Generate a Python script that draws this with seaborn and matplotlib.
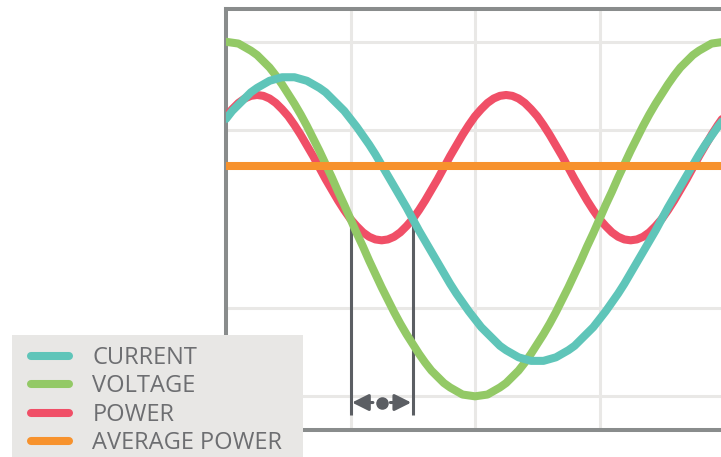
import matplotlib
matplotlib.use("Agg")
import matplotlib.pyplot as plt
import matplotlib.patches as mpatches
import seaborn as sns

# values (x in grid units, y in grid units, 0 = voltage axis)
x_vals = [round(0.05 * i, 2) for i in range(81)]

voltage = [2.00, 1.99, 1.98, 1.94, 1.90, 1.85, 1.78, 1.71, 1.62, 1.52,
           1.41, 1.30, 1.18, 1.05, 0.91, 0.77, 0.62, 0.47, 0.31, 0.16,
           0.00, -0.16, -0.31, -0.47, -0.62, -0.77, -0.91, -1.05, -1.18, -1.30,
           -1.41, -1.52, -1.62, -1.71, -1.78, -1.85, -1.90, -1.94, -1.98, -1.99,
           -2.00, -1.99, -1.98, -1.94, -1.90, -1.85, -1.78, -1.71, -1.62, -1.52,
           -1.41, -1.30, -1.18, -1.05, -0.91, -0.77, -0.62, -0.47, -0.31, -0.16,
           0.00, 0.16, 0.31, 0.47, 0.62, 0.77, 0.91, 1.05, 1.18, 1.30,
           1.41, 1.52, 1.62, 1.71, 1.78, 1.85, 1.90, 1.94, 1.98, 1.99, 2.00]

current = [1.13, 1.22, 1.29, 1.36, 1.43, 1.48, 1.52, 1.56, 1.58, 1.60,
           1.60, 1.60, 1.58, 1.56, 1.52, 1.48, 1.43, 1.36, 1.29, 1.22,
           1.13, 1.04, 0.94, 0.84, 0.73, 0.61, 0.49, 0.37, 0.25, 0.13,
           0.00, -0.13, -0.25, -0.37, -0.49, -0.61, -0.73, -0.84, -0.94, -1.04,
           -1.13, -1.22, -1.29, -1.36, -1.43, -1.48, -1.52, -1.56, -1.58, -1.60,
           -1.60, -1.60, -1.58, -1.56, -1.52, -1.48, -1.43, -1.36, -1.29, -1.22,
           -1.13, -1.04, -0.94, -0.84, -0.73, -0.61, -0.49, -0.37, -0.25, -0.13,
           0.00, 0.13, 0.25, 0.37, 0.49, 0.61, 0.73, 0.84, 0.94, 1.04, 1.13]

power = [1.16, 1.24, 1.31, 1.36, 1.39, 1.40, 1.39, 1.36, 1.31, 1.24,
         1.16, 1.06, 0.95, 0.83, 0.71, 0.58, 0.45, 0.33, 0.21, 0.10,
         0.00, -0.08, -0.15, -0.20, -0.23, -0.24, -0.23, -0.20, -0.15, -0.08,
         0.00, 0.10, 0.21, 0.33, 0.45, 0.58, 0.71, 0.83, 0.95, 1.06,
         1.16, 1.24, 1.31, 1.36, 1.39, 1.40, 1.39, 1.36, 1.31, 1.24,
         1.16, 1.06, 0.95, 0.83, 0.71, 0.58, 0.45, 0.33, 0.21, 0.10,
         0.00, -0.08, -0.15, -0.20, -0.23, -0.24, -0.23, -0.20, -0.15, -0.08,
         0.00, 0.10, 0.21, 0.33, 0.45, 0.58, 0.71, 0.83, 0.95, 1.06, 1.16]

avg_x = [0.0, 4.0]
avg_power = [0.6, 0.6]

# zero crossings of voltage and current (phase shift markers)
phase_x = [1.0, 1.5]
phase_bottom = -2.21
arrow_y = -2.07

labels = ["CURRENT", "VOLTAGE", "POWER", "AVERAGE POWER"]
colors = {"CURRENT": "#5fc5b9", "VOLTAGE": "#93c966",
          "POWER": "#f04f67", "AVERAGE POWER": "#f7922d"}

W, H = 721, 457
fig = plt.figure(figsize=(W / 100, H / 100), dpi=100)
plt.rcParams['font.family'] = ['Open Sans', 'DejaVu Sans']
ax = fig.add_axes([226 / W, 27 / H, 498 / W, 421 / H])

lw = 5.8
line_kw = dict(lw=lw, solid_capstyle="round", solid_joinstyle="round")
sns.lineplot(x=x_vals, y=power, ax=ax, color=colors["POWER"],
             label="POWER", zorder=3, **line_kw)
sns.lineplot(x=x_vals, y=voltage, ax=ax, color=colors["VOLTAGE"],
             label="VOLTAGE", zorder=4, **line_kw)
sns.lineplot(x=x_vals, y=current, ax=ax, color=colors["CURRENT"],
             label="CURRENT", zorder=5, **line_kw)
sns.lineplot(x=avg_x, y=avg_power, ax=ax, color=colors["AVERAGE POWER"],
             label="AVERAGE POWER", zorder=6, **line_kw)
if ax.get_legend() is not None:
    ax.get_legend().remove()

# phase shift markers
dark = "#5b5e63"
ax.vlines(phase_x, phase_bottom, 0.0, color=dark, lw=2.2, zorder=2)
mid = sum(phase_x) / 2
astyle = dict(arrowstyle="-|>,head_length=1.0,head_width=0.5", color=dark,
              lw=2.2, shrinkA=0, shrinkB=0, mutation_scale=10)
ax.annotate("", xy=(phase_x[0] + 0.012, arrow_y), xytext=(mid - 0.07, arrow_y),
            arrowprops=astyle, zorder=2)
ax.annotate("", xy=(phase_x[1] - 0.012, arrow_y), xytext=(mid + 0.07, arrow_y),
            arrowprops=astyle, zorder=2)
ax.plot([mid], [arrow_y], "o", color=dark, ms=8, zorder=2)

ax.set_xlim(0, 4)
ax.set_ylim(-2.38, 2.37)
ax.set_xticks([1, 2, 3])
ax.set_yticks([-2, -1, 1, 2])
ax.set_axisbelow(True)
ax.grid(color="#e9e8e6", lw=2.2)
ax.tick_params(length=0, labelbottom=False, labelleft=False)
for side in ["left", "top", "bottom"]:
    ax.spines[side].set_color("#898c8c")
    ax.spines[side].set_linewidth(2.9)
ax.spines["right"].set_visible(False)

# legend box
box = mpatches.Rectangle((12 / W, 0), 291 / W, 122 / H, transform=fig.transFigure,
                         facecolor="#e8e7e5", edgecolor="none", zorder=1)
fig.add_artist(box)

handles, labs = ax.get_legend_handles_labels()
order = [labs.index(l) for l in labels]
fig.legend([handles[i] for i in order], labels, loc="upper left",
           bbox_to_anchor=(31 / W, 1 - 346 / H), frameon=False, borderpad=0,
           borderaxespad=0, handlelength=1.6, handletextpad=1.0,
           labelspacing=0.19, fontsize=17.0, labelcolor="#6d6e71")

fig.savefig("out.png", dpi=100)
